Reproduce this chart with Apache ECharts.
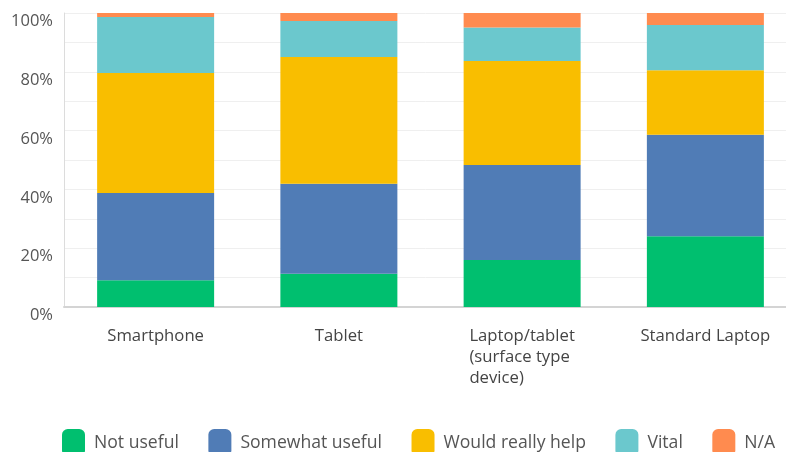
<!DOCTYPE html>
<html><head><meta charset="utf-8">
<script src="https://cdn.jsdelivr.net/npm/echarts@6/dist/echarts.min.js"></script>
<style>html,body{margin:0;padding:0;background:#fff}#c{width:786px;height:452px}</style>
</head><body><div id="c"></div>
<script>
var categories = ['Smartphone', 'Tablet', 'Laptop/tablet\n(surface type\ndevice)', 'Standard Laptop'];
var seriesNames = ['Not useful', 'Somewhat useful', 'Would really help', 'Vital', 'N/A'];
var notUseful = [9.1, 11.3, 16.0, 24.1];
var somewhatUseful = [29.7, 30.6, 32.3, 34.5];
var wouldReallyHelp = [40.8, 43.1, 35.4, 21.9];
var vital = [19.0, 12.3, 11.4, 15.4];
var na = [1.4, 2.7, 4.9, 4.1];
var yTickLabels = ['0%', '20%', '40%', '60%', '80%', '100%'];
var colors = ['#00bf6f', '#507cb6', '#f9be00', '#6bc8cd', '#ff8b4f'];
var values = [notUseful, somewhatUseful, wouldReallyHelp, vital, na];

var chart = echarts.init(document.getElementById('c'), null, {renderer: 'canvas'});
var FONT = 'Open Sans';
chart.setOption({
  animation: false,
  color: colors,
  grid: {left: 64, width: 733, top: 13, bottom: 145, containLabel: false, outerBoundsMode: 'none'},
  xAxis: {
    type: 'category',
    data: categories,
    axisLine: {lineStyle: {color: '#d4d4d4', width: 2}},
    axisTick: {show: false},
    axisLabel: {
      interval: 0,
      margin: 19,
      formatter: function (v) {
        return v.split('\n').map(function (s) { return '{l|' + s + '}'; }).join('\n');
      },
      rich: {l: {align: 'left', fontFamily: FONT, fontSize: 16.7, color: '#444', lineHeight: 21}}
    }
  },
  yAxis: {
    type: 'value',
    min: 0, max: 100, interval: 10,
    axisLine: {show: true, lineStyle: {color: '#dcdcdc', width: 1}},
    axisTick: {show: false},
    splitLine: {lineStyle: {color: '#efefef', width: 1}},
    axisLabel: {
      fontFamily: FONT, fontSize: 16.5, color: '#555',
      verticalAlign: 'top', margin: 11,
      formatter: function (v) { return v % 20 === 0 ? yTickLabels[v / 20] : ''; }
    }
  },
  legend: {
    left: 62, top: 429, padding: 0,
    itemWidth: 23, itemHeight: 27, itemGap: 29.5,
    icon: 'roundRect',
    textStyle: {fontFamily: FONT, fontSize: 17.6, color: '#555', padding: [0, 0, 0, 4]},
    data: seriesNames
  },
  series: seriesNames.map(function (n, i) {
    return {
      name: n, type: 'bar', stack: 'total', barWidth: 117,
      data: values[i],
      itemStyle: {color: colors[i]}
    };
  })
});
</script></body></html>
